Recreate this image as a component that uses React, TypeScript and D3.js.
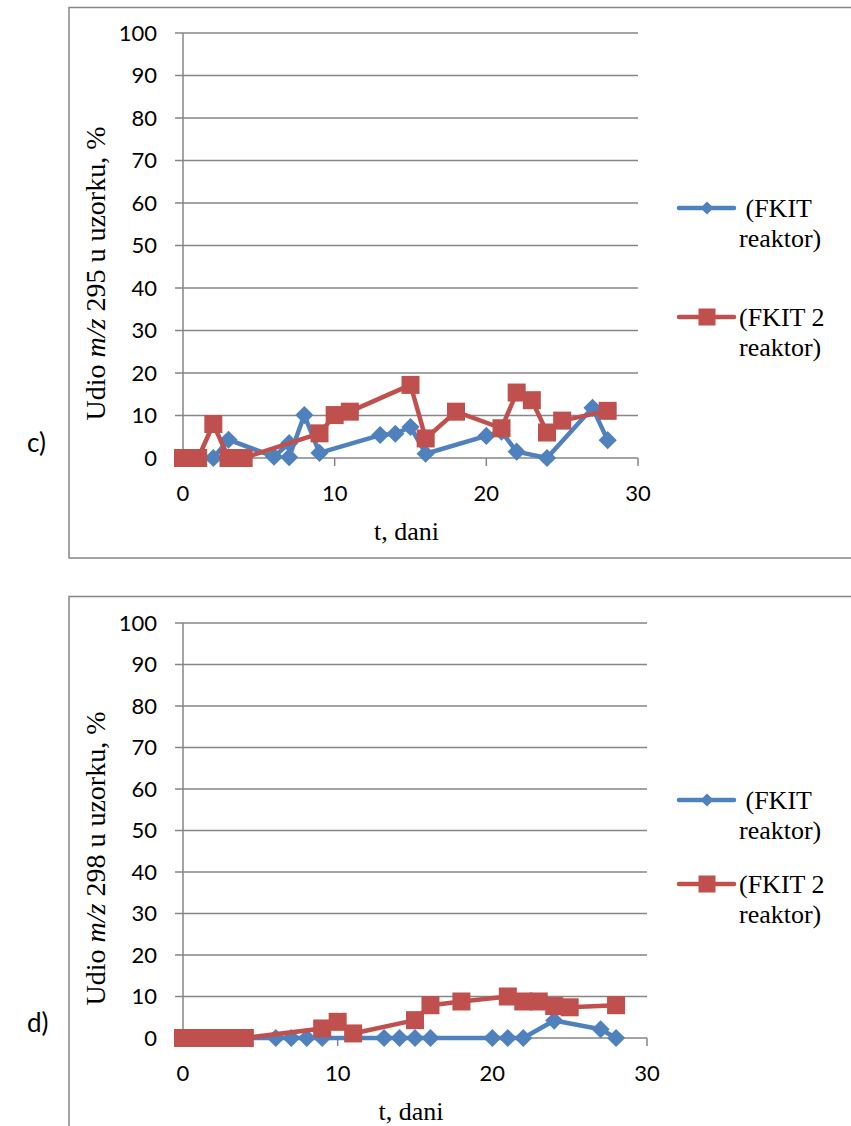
import React from "react";
import * as d3 from "d3";

// dani (t) i udjeli, %
const daysBlueC = [0, 1, 2, 3, 6, 7, 7, 8, 9, 13, 14, 15, 16, 20, 21, 22, 24, 27, 28];
const valsBlueC = [0, 0, 0, 4.3, 0.3, 3.5, 0.2, 10.1, 1.2, 5.4, 5.7, 7.3, 1, 5.2, 6.2, 1.5, 0, 11.8, 4.2];
const daysRedC = [0, 1, 2, 3, 4, 9, 10, 11, 15, 16, 18, 21, 22, 23, 24, 25, 28];
const valsRedC = [0, 0, 8, 0, 0, 5.8, 10.1, 10.9, 17.2, 4.6, 10.9, 7, 15.4, 13.6, 6, 8.8, 11.1];

const daysBlueD = [0, 1, 2, 3, 6, 7, 8, 9, 13, 14, 15, 16, 20, 21, 22, 24, 27, 28];
const valsBlueD = [0, 0, 0, 0, 0, 0, 0, 0, 0, 0, 0, 0, 0, 0, 0, 4.2, 2.1, 0];
const daysRedD = [0, 1, 2, 3, 4, 9, 10, 11, 15, 16, 18, 21, 22, 23, 24, 25, 28];
const valsRedD = [0, 0, 0, 0, 0, 2.3, 3.9, 1.1, 4.3, 7.9, 8.8, 10, 8.8, 8.8, 7.7, 7.4, 7.9];

const yTicks = [0, 10, 20, 30, 40, 50, 60, 70, 80, 90, 100];
const xTicks = [0, 10, 20, 30];
const legendLabels = [[" (FKIT", "reaktor)"], ["(FKIT 2", "reaktor)"]];

const BLUE = "#4F81BD";
const RED = "#C0504D";
const GRID = "#868686";
const SERIF = "'Liberation Serif', 'Times New Roman', serif";
const SANS = "Lato, 'Liberation Sans', sans-serif";

function Panel({ top, frameBottom, plot, mz, tag, blue, red, legend }) {
  const x = d3.scaleLinear().domain([0, 30]).range([plot.left, plot.right]);
  const y = d3.scaleLinear().domain([0, 100]).range([plot.bottom, plot.top]);
  const line = d3
    .line()
    .x((d) => x(d[0]))
    .y((d) => y(d[1]));
  const bluePts = blue[0].map((t, i) => [t, blue[1][i]]);
  const redPts = red[0].map((t, i) => [t, red[1][i]]);
  const diamond = d3.symbol(d3.symbolDiamond2, 210)();
  const diamondSmall = d3.symbol(d3.symbolDiamond2, 110)();
  // naslov osi nije tocno u sredini plota
  const titleY = (plot.top + plot.bottom) / 2 + 28;

  return (
    <g>
      <rect
        x={69}
        y={top}
        width={820}
        height={frameBottom - top}
        fill="#fff"
        stroke={GRID}
        strokeWidth={1.5}
      />
      {yTicks.map((v) => (
        <g key={v}>
          <line x1={plot.left - 8} x2={plot.right} y1={y(v)} y2={y(v)} stroke={GRID} strokeWidth={1.5} />
          <text
            x={plot.left - 26}
            y={y(v)}
            dy="0.36em"
            textAnchor="end"
            fontFamily={SANS}
            fontSize={22}
          >
            {v}
          </text>
        </g>
      ))}
      <line x1={plot.left} x2={plot.left} y1={plot.top} y2={plot.bottom} stroke={GRID} strokeWidth={1.5} />
      {xTicks.map((t) => (
        <g key={t}>
          <line x1={x(t)} x2={x(t)} y1={plot.bottom} y2={plot.bottom + 8} stroke={GRID} strokeWidth={1.5} />
          <text
            x={x(t)}
            y={plot.bottom + 35}
            dy="0.36em"
            textAnchor="middle"
            fontFamily={SANS}
            fontSize={22}
          >
            {t}
          </text>
        </g>
      ))}
      <text
        x={(plot.left + plot.right) / 2 - 4}
        y={plot.bottom + 82}
        textAnchor="middle"
        fontFamily={SERIF}
        fontSize={26}
      >
        t, dani
      </text>
      <text
        transform={`translate(105,${titleY}) rotate(-90)`}
        textAnchor="middle"
        fontFamily={SERIF}
        fontSize={28}
      >
        Udio <tspan fontStyle="italic">m/z</tspan> {mz} u uzorku, %
      </text>
      <text x={27} y={plot.bottom - 6} fontFamily={SANS} fontSize={26}>
        {tag}
      </text>

      <path d={line(bluePts)} fill="none" stroke={BLUE} strokeWidth={4.5} strokeLinejoin="round" />
      {bluePts.map((p, i) => (
        <path key={"b" + i} d={diamond} transform={`translate(${x(p[0])},${y(p[1])})`} fill={BLUE} />
      ))}
      <path d={line(redPts)} fill="none" stroke={RED} strokeWidth={4.5} strokeLinejoin="round" />
      {redPts.map((p, i) => (
        <rect key={"r" + i} x={x(p[0]) - 9} y={y(p[1]) - 9} width={18} height={18} fill={RED} />
      ))}

      {legend.map((ly, k) => (
        <g key={k}>
          <line
            x1={679}
            x2={734}
            y1={ly}
            y2={ly}
            stroke={k === 0 ? BLUE : RED}
            strokeWidth={4.5}
            strokeLinecap="round"
          />
          {k === 0 ? (
            <path d={diamondSmall} transform={`translate(707,${ly})`} fill={BLUE} />
          ) : (
            <rect x={698.5} y={ly - 8.5} width={17} height={17} fill={RED} />
          )}
          <text fontFamily={SERIF} fontSize={26} xmlSpace="preserve">
            <tspan x={739} y={ly} dy="0.33em">
              {legendLabels[k][0]}
            </tspan>
            <tspan x={739} y={ly + 30} dy="0.33em">
              {legendLabels[k][1]}
            </tspan>
          </text>
        </g>
      ))}
    </g>
  );
}

export default function App() {
  return (
    <svg width={851} height={1126} style={{ position: "absolute", left: 0, top: 0, background: "#fff" }}>
      <rect width={851} height={1126} fill="#fff" />
      <Panel
        top={7.5}
        frameBottom={558}
        plot={{ left: 183, right: 638, top: 33, bottom: 458 }}
        mz={295}
        tag="c)"
        blue={[daysBlueC, valsBlueC]}
        red={[daysRedC, valsRedC]}
        legend={[208, 317]}
      />
      <Panel
        top={596.5}
        frameBottom={1140}
        plot={{ left: 183, right: 647, top: 623, bottom: 1038 }}
        mz={298}
        tag="d)"
        blue={[daysBlueD, valsBlueD]}
        red={[daysRedD, valsRedD]}
        legend={[800, 884]}
      />
    </svg>
  );
}
